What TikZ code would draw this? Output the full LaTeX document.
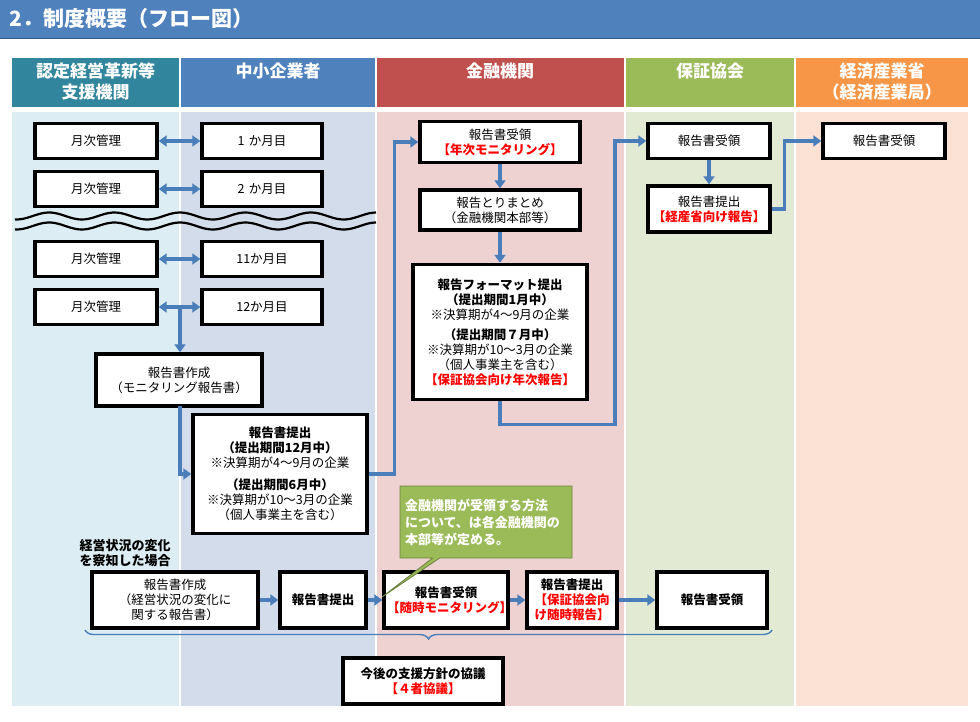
\documentclass[tikz,border=0pt]{standalone}
\usepackage{fontspec}
\setmainfont{Noto Sans CJK JP}
\usetikzlibrary{arrows.meta,decorations.pathreplacing,shapes.callouts}
\definecolor{arr}{HTML}{4A7EBB}
\definecolor{hA}{HTML}{31859C}\definecolor{hB}{HTML}{4F81BD}\definecolor{hC}{HTML}{C0504D}\definecolor{hD}{HTML}{9BBB59}\definecolor{hE}{HTML}{F79646}
\definecolor{bA}{HTML}{DCEEF3}\definecolor{bB}{HTML}{D3DCEA}\definecolor{bC}{HTML}{EED2D2}\definecolor{bD}{HTML}{E2EAD3}\definecolor{bE}{HTML}{FCE2D4}
\definecolor{rd}{HTML}{FF0000}
\tikzset{
 bx/.style={draw=black,line width=3.4pt,fill=white,align=center,font=\fontsize{12.5}{15}\selectfont,inner sep=1pt},
 ar/.style={draw=arr,line width=3.4pt,-{Triangle[length=8pt,width=11pt]}},
 dar/.style={draw=arr,line width=3.4pt,{Triangle[length=8pt,width=11pt]}-{Triangle[length=8pt,width=11pt]}},
 hd/.style={text=white,font=\bfseries\fontsize{17}{21}\selectfont,align=center,anchor=north}
}
\newcommand{\bxat}[5]{\node[bx,minimum width=#3pt,minimum height=#4pt,text width=#3pt-6pt] (#1) at (#2) {#5};}
\begin{document}
\begin{tikzpicture}[x=1pt,y=-1pt]
\useasboundingbox (0,0) rectangle (980,721);
\fill[white] (0,0) rectangle (980,721);
\fill[hB] (0,0) rectangle (980,38);
\draw[hB!70!black,line width=1pt] (0,38)--(980,38);
\node[anchor=west,text=white,font=\bfseries\fontsize{21}{23}\selectfont] (title) at (6,19) {2．制度概要（フロー図）};
% columns
\fill[hA] (12,58) rectangle (179,107);
\fill[hB] (181,58) rectangle (375,107);
\fill[hC] (377,58) rectangle (624,107);
\fill[hD] (626,58) rectangle (794,107);
\fill[hE] (796,58) rectangle (968,107);
\fill[bA] (12,112) rectangle (179,706);
\fill[bB] (181,112) rectangle (375,706);
\fill[bC] (377,112) rectangle (624,706);
\fill[bD] (626,112) rectangle (794,706);
\fill[bE] (796,112) rectangle (968,706);
\node[hd] (h1) at (95.5,59) {認定経営革新等\\支援機関};
\node[hd] (h2) at (278,59) {中小企業者};
\node[hd] (h3) at (500,59) {金融機関};
\node[hd] (h4) at (710,59) {保証協会};
\node[hd] (h5) at (882,59) {経済産業省\\（経済産業局）};
% waves
\draw[black,line width=2.2pt] plot[domain=15:376,samples=120] (\x,{216+3.5*sin(\x*5.5)});
\draw[black,line width=2.2pt] plot[domain=15:376,samples=120] (\x,{226+3.5*sin(\x*5.5)});
% left boxes
\bxat{m1}{96,141}{122}{35}{月次管理}
\bxat{m2}{96,189}{122}{35}{月次管理}
\bxat{m3}{96,259}{122}{35}{月次管理}
\bxat{m4}{96,307}{122}{35}{月次管理}
\bxat{k1}{262,141}{120}{35}{1 か月目}
\bxat{k2}{262,189}{120}{35}{2 か月目}
\bxat{k3}{262,259}{120}{35}{11か月目}
\bxat{k4}{262,307}{120}{35}{12か月目}
\foreach \i in {1,2,3,4}{\draw[dar] (m\i) -- (k\i);}
\bxat{rs}{179,380}{166}{52}{報告書作成\\（モニタリング報告書）}
\bxat{rt}{280,474}{174}{119}{\textbf{報告書提出}\\\textbf{（提出期間12月中）}\\※決算期が4～9月の企業\\[7pt]\textbf{（提出期間6月中）}\\※決算期が10～3月の企業\\（個人事業主を含む）}
\coordinate (c1) at (180,307);
\draw[ar] (c1) -- (rs.north -| c1);
\coordinate (c2) at (180,406);
\draw[ar] (c2) |- (rt.west);
% financial
\bxat{f1}{500,142}{160}{41}{報告書受領\\\textcolor{rd}{\textbf{【年次モニタリング】}}}
\bxat{f2}{500,210}{160}{40}{報告とりまとめ\\（金融機関本部等）}
\bxat{f3}{500,332}{174}{135}{\textbf{報告フォーマット提出}\\\textbf{（提出期間1月中）}\\※決算期が4～9月の企業\\[5pt]\textbf{（提出期間７月中）}\\※決算期が10～3月の企業\\（個人事業主を含む）\\\textcolor{rd}{\textbf{【保証協会向け年次報告】}}}
\draw[ar] (rt.east) -- ++(26,0) |- (f1.west);
\draw[ar] (f1) -- (f2);
\draw[ar] (f2) -- (f3);
% guarantee
\bxat{g1}{709,141}{122}{35}{報告書受領}
\bxat{g2}{709,209}{122}{46}{報告書提出\\\textcolor{rd}{\textbf{【経産省向け報告】}}}
\draw[ar] (f3.south) -- ++(0,23) -| (615,141) -- (g1.west);
\draw[ar] (g1) -- (g2);
\bxat{e1}{884,141}{122}{35}{報告書受領}
\draw[ar] (g2.east) -- ++(13,0) |- (e1.west);
% bottom
\node[anchor=west,align=left,font=\bfseries\fontsize{13}{15}\selectfont] (lbl) at (76,553) {経営状況の変化\\を察知した場合};
\bxat{b1}{175,600}{166}{56}{報告書作成\\（経営状況の変化に\\関する報告書）}
\bxat{b2}{323,600}{86}{56}{\textbf{報告書提出}}
\bxat{b3}{446,600}{124}{56}{\textbf{報告書受領}\\\textcolor{rd}{\textbf{【随時モニタリング】}}}
\bxat{b4}{572,600}{90}{56}{\textbf{報告書提出}\\\textcolor{rd}{\textbf{【保証協会向\\け随時報告】}}}
\bxat{b5}{712,600}{110}{56}{\textbf{報告書受領}}
\draw[ar] (b1) -- (b2);
\draw[ar] (b2) -- (b3);
\draw[ar] (b3) -- (b4);
\draw[ar] (b4) -- (b5);
% callout
\node[rectangle callout,fill=hD,draw=hD!70!black,line width=0.8pt,text=white,align=left,font=\bfseries\fontsize{13}{17}\selectfont,minimum width=172pt,minimum height=72pt,text width=162pt,callout absolute pointer={(382,597)}] (co) at (486,522) {金融機関が受領する方法\\について、は各金融機関の\\本部等が定める。};
\coordinate (brL) at (85,630);
\coordinate (brR) at (772,630);
\draw[arr,line width=1.4pt,decorate,decoration={brace,mirror,amplitude=9pt,aspect=0.5}] (brL) -- (brR);
\bxat{fn}{423,681}{160}{46}{\textbf{今後の支援方針の協議}\\\textcolor{rd}{\textbf{【４者協議】}}}
\end{tikzpicture}
\end{document}
